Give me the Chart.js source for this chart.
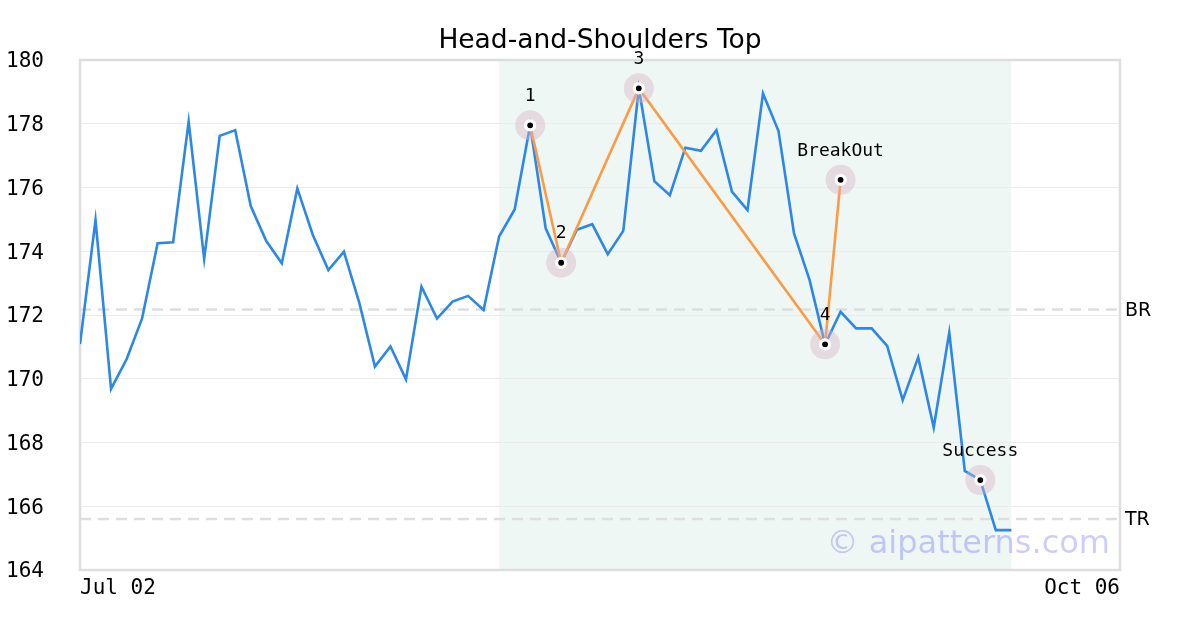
<!DOCTYPE html>
<html><head><meta charset="utf-8">
<script src="https://cdn.jsdelivr.net/npm/chart.js@4.4.1/dist/chart.umd.min.js"></script>
<style>html,body{margin:0;padding:0;background:#fff;overflow:hidden}</style>
</head><body>
<canvas id="c" width="1200" height="630"></canvas>
<script>
const chartTitle = 'Head-and-Shoulders Top';
const prices = [171.09,174.98,169.68,170.61,171.89,174.25,174.28,178.07,173.76,177.62,
  177.80,175.42,174.32,173.62,175.97,174.51,173.41,173.99,172.37,170.38,
  171.01,169.98,172.89,171.89,172.42,172.60,172.16,174.46,175.31,177.95,
  174.72,173.64,174.67,174.85,173.91,174.64,179.11,176.20,175.76,177.25,
  177.15,177.80,175.87,175.29,178.95,177.77,174.56,173.10,171.08,172.10,
  171.58,171.58,171.03,169.33,170.67,168.47,171.45,167.11,166.82,165.25,165.25];
const xTickIndex = [0, 67];
const xTickLabels = ['Jul 02', 'Oct 06'];
const yMin = 164, yMax = 180, yStep = 2;
const patternIdx = [29, 31, 36, 48, 49];
const patternVal = [177.95, 173.64, 179.11, 171.08, 176.24];
const patternLabels = ['1', '2', '3', '4', 'BreakOut'];
const successIdx = [58];
const successVal = [166.82];
const successLabels = ['Success'];
const levelNames = ['BR', 'TR'];
const levelValues = [172.17, 165.60];
const shadeRange = [27, 60];
const watermark = '\u00A9 aipatterns.com';

const markerIdx = patternIdx.concat(successIdx);
const markerVal = patternVal.concat(successVal);
const markerLabels = patternLabels.concat(successLabels);
const toXY = (idx, vals) => idx.map((i, k) => ({x: i, y: vals[k]}));

const deco = {
  id: 'deco',
  beforeDraw(chart) {
    const {ctx, chartArea: a, scales: {x}} = chart;
    ctx.save();
    const x0 = x.getPixelForValue(shadeRange[0]), x1 = x.getPixelForValue(shadeRange[1]);
    ctx.fillStyle = '#eff7f4';
    ctx.fillRect(x0, a.top, x1 - x0, a.bottom - a.top);
    ctx.restore();
  },
  beforeDatasetsDraw(chart) {
    const {ctx, chartArea: a, scales: {y}} = chart;
    ctx.save();
    ctx.strokeStyle = '#dedede';
    ctx.lineWidth = 2.5;
    ctx.setLineDash([11, 7]);
    levelValues.forEach((v) => {
      const py = y.getPixelForValue(v);
      ctx.beginPath(); ctx.moveTo(a.left, py); ctx.lineTo(a.right, py); ctx.stroke();
    });
    ctx.setLineDash([]);
    ctx.strokeStyle = '#dddddd';
    ctx.lineWidth = 2.5;
    ctx.strokeRect(a.left, a.top, a.right - a.left, a.bottom - a.top);
    ctx.fillStyle = '#000';
    ctx.font = '19px "DejaVu Sans"';
    ctx.textAlign = 'left';
    ctx.textBaseline = 'middle';
    levelValues.forEach((v, k) => {
      ctx.fillText(levelNames[k], a.right + 5, y.getPixelForValue(v) + 1.5);
    });
    // y tick labels from the library's y scale ticks
    ctx.font = '21px "DejaVu Sans Mono"';
    y.ticks.forEach((t) => {
      ctx.fillText(String(t.value), 6, y.getPixelForValue(t.value) + 2);
    });
    ctx.restore();
  },
  afterDatasetsDraw(chart) {
    const {ctx, chartArea: a, scales: {x, y}} = chart;
    ctx.save();
    ctx.fillStyle = '#000';
    ctx.font = '18px "DejaVu Sans Mono"';
    ctx.textAlign = 'center';
    ctx.textBaseline = 'middle';
    markerIdx.forEach((i, k) => {
      ctx.fillText(markerLabels[k], x.getPixelForValue(i), y.getPixelForValue(markerVal[k]) - 29);
    });
    ctx.font = '26.5px "DejaVu Sans"';
    ctx.fillText(chartTitle, (a.left + a.right) / 2, 41.5);
    ctx.font = '32px "DejaVu Sans"';
    ctx.fillStyle = 'rgba(0,0,255,0.2)';
    ctx.textAlign = 'right';
    ctx.textBaseline = 'alphabetic';
    ctx.fillText(watermark, a.right - 10, a.bottom - 17);
    ctx.restore();
  }
};

Chart.defaults.font.family = '"DejaVu Sans Mono", monospace';
Chart.defaults.color = '#000';

new Chart(document.getElementById('c'), {
  type: 'line',
  data: {
    datasets: [
      {data: prices.map((v, i) => ({x: i, y: v})), borderColor: '#2b87e8', borderWidth: 2.6,
        pointRadius: 0, tension: 0, fill: false, order: 4},
      {data: toXY(patternIdx, patternVal), borderColor: '#fd9a44', borderWidth: 2.6,
        pointRadius: 0, tension: 0, fill: false, order: 3},
      {data: toXY(markerIdx, markerVal), showLine: false, pointRadius: 15, pointBorderWidth: 0,
        pointBackgroundColor: 'rgba(215,178,192,0.42)', order: 2},
      {data: toXY(markerIdx, markerVal), showLine: false, pointRadius: 4.5, pointBorderWidth: 3.2,
        pointBackgroundColor: '#000', pointBorderColor: '#fff', order: 1}
    ]
  },
  options: {
    responsive: false,
    animation: false,
    devicePixelRatio: 1,
    layout: {padding: {left: 6, right: 80, top: 60, bottom: 20}},
    plugins: {legend: {display: false}, tooltip: {enabled: false}, title: {display: false}},
    scales: {
      x: {
        type: 'linear', min: xTickIndex[0], max: xTickIndex[xTickIndex.length - 1],
        afterBuildTicks: (s) => { s.ticks = xTickIndex.map((v) => ({value: v})); },
        afterFit: (s) => { s.height = 40; },
        grid: {display: false, drawTicks: false},
        border: {display: false},
        ticks: {
          font: {size: 21}, padding: 6, align: 'inner', maxRotation: 0, autoSkip: false,
          callback: (v) => xTickLabels[xTickIndex.indexOf(v)]
        }
      },
      y: {
        min: yMin, max: yMax,
        afterFit: (s) => { s.width = 74; },
        grid: {color: '#ebebeb', lineWidth: 1, drawTicks: false},
        border: {display: false},
        ticks: {stepSize: yStep, display: false}
      }
    }
  },
  plugins: [deco]
});
</script>
</body></html>
